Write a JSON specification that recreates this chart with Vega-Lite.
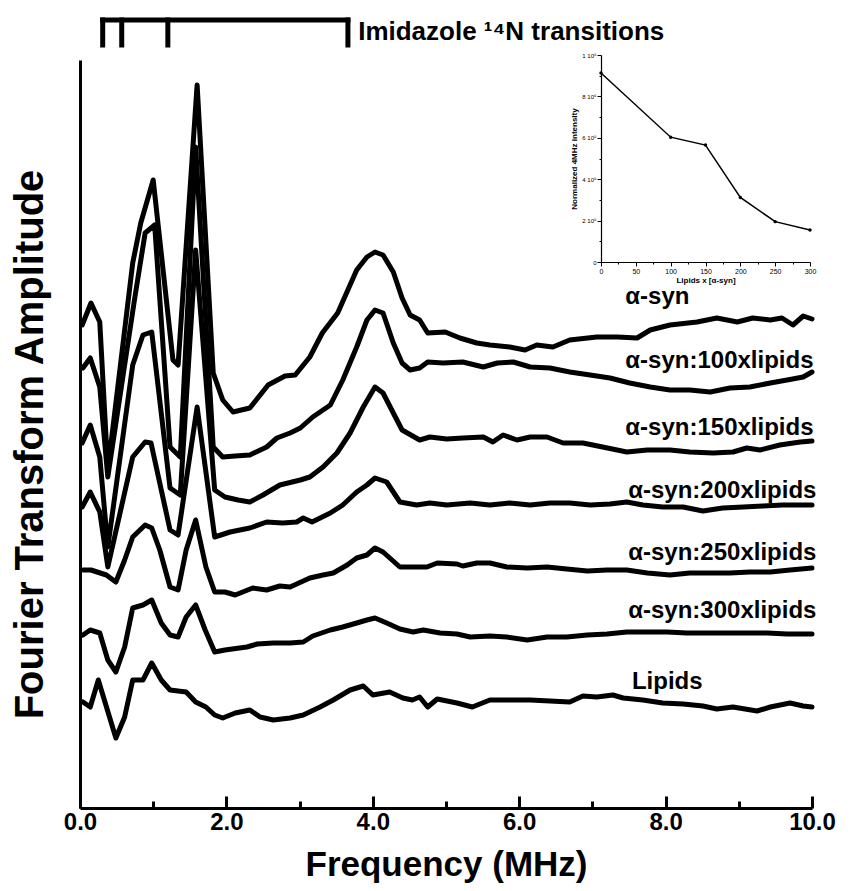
{
  "$schema": "https://vega.github.io/schema/vega-lite/v6.json",
  "width": 732,
  "height": 748,
  "autosize": {"type": "none"},
  "padding": {"left": 80, "top": 60, "right": 39, "bottom": 83},
  "background": "white",
  "config": {"view": {"stroke": null}, "axis": {"grid": false}},
  "datasets": {
    "spectra": [
      {"series":"a-syn","freq":0.03,"amp":483},{"series":"a-syn","freq":0.15,"amp":505},{"series":"a-syn","freq":0.27,"amp":486},{"series":"a-syn","freq":0.38,"amp":338},{"series":"a-syn","freq":0.72,"amp":545},{"series":"a-syn","freq":0.83,"amp":585},{"series":"a-syn","freq":1.0,"amp":628},{"series":"a-syn","freq":1.27,"amp":448},{"series":"a-syn","freq":1.34,"amp":443},{"series":"a-syn","freq":1.6,"amp":723},{"series":"a-syn","freq":1.82,"amp":435},{"series":"a-syn","freq":1.95,"amp":408},{"series":"a-syn","freq":2.09,"amp":396},{"series":"a-syn","freq":2.32,"amp":400},{"series":"a-syn","freq":2.57,"amp":423},{"series":"a-syn","freq":2.8,"amp":432},{"series":"a-syn","freq":2.94,"amp":433},{"series":"a-syn","freq":3.14,"amp":451},{"series":"a-syn","freq":3.31,"amp":475},{"series":"a-syn","freq":3.52,"amp":495},{"series":"a-syn","freq":3.78,"amp":538},{"series":"a-syn","freq":3.92,"amp":551},{"series":"a-syn","freq":4.03,"amp":556},{"series":"a-syn","freq":4.14,"amp":553},{"series":"a-syn","freq":4.28,"amp":536},{"series":"a-syn","freq":4.4,"amp":510},{"series":"a-syn","freq":4.51,"amp":493},{"series":"a-syn","freq":4.64,"amp":488},{"series":"a-syn","freq":4.75,"amp":475},{"series":"a-syn","freq":4.99,"amp":476},{"series":"a-syn","freq":5.19,"amp":470},{"series":"a-syn","freq":5.42,"amp":465},{"series":"a-syn","freq":5.6,"amp":463},{"series":"a-syn","freq":5.87,"amp":461},{"series":"a-syn","freq":6.08,"amp":458},{"series":"a-syn","freq":6.24,"amp":463},{"series":"a-syn","freq":6.46,"amp":461},{"series":"a-syn","freq":6.69,"amp":468},{"series":"a-syn","freq":7.06,"amp":471},{"series":"a-syn","freq":7.34,"amp":471},{"series":"a-syn","freq":7.61,"amp":470},{"series":"a-syn","freq":7.79,"amp":478},{"series":"a-syn","freq":8.06,"amp":483},{"series":"a-syn","freq":8.43,"amp":486},{"series":"a-syn","freq":8.7,"amp":490},{"series":"a-syn","freq":8.98,"amp":486},{"series":"a-syn","freq":9.19,"amp":490},{"series":"a-syn","freq":9.43,"amp":488},{"series":"a-syn","freq":9.59,"amp":490},{"series":"a-syn","freq":9.74,"amp":483},{"series":"a-syn","freq":9.88,"amp":492},{"series":"a-syn","freq":10.0,"amp":489},
      {"series":"100x","freq":0.04,"amp":440},{"series":"100x","freq":0.14,"amp":450},{"series":"100x","freq":0.27,"amp":421},{"series":"100x","freq":0.38,"amp":331},{"series":"100x","freq":0.75,"amp":511},{"series":"100x","freq":0.89,"amp":575},{"series":"100x","freq":1.02,"amp":583},{"series":"100x","freq":1.23,"amp":361},{"series":"100x","freq":1.37,"amp":351},{"series":"100x","freq":1.58,"amp":661},{"series":"100x","freq":1.82,"amp":361},{"series":"100x","freq":1.95,"amp":351},{"series":"100x","freq":2.12,"amp":352},{"series":"100x","freq":2.32,"amp":353},{"series":"100x","freq":2.55,"amp":361},{"series":"100x","freq":2.69,"amp":370},{"series":"100x","freq":2.87,"amp":375},{"series":"100x","freq":3.01,"amp":380},{"series":"100x","freq":3.18,"amp":391},{"series":"100x","freq":3.42,"amp":403},{"series":"100x","freq":3.59,"amp":428},{"series":"100x","freq":3.78,"amp":461},{"series":"100x","freq":3.92,"amp":488},{"series":"100x","freq":4.03,"amp":498},{"series":"100x","freq":4.14,"amp":495},{"series":"100x","freq":4.28,"amp":465},{"series":"100x","freq":4.4,"amp":445},{"series":"100x","freq":4.51,"amp":438},{"series":"100x","freq":4.64,"amp":440},{"series":"100x","freq":4.75,"amp":446},{"series":"100x","freq":4.96,"amp":445},{"series":"100x","freq":5.23,"amp":446},{"series":"100x","freq":5.51,"amp":441},{"series":"100x","freq":5.7,"amp":445},{"series":"100x","freq":5.92,"amp":446},{"series":"100x","freq":6.15,"amp":441},{"series":"100x","freq":6.42,"amp":440},{"series":"100x","freq":6.69,"amp":436},{"series":"100x","freq":6.97,"amp":433},{"series":"100x","freq":7.24,"amp":430},{"series":"100x","freq":7.51,"amp":425},{"series":"100x","freq":7.79,"amp":421},{"series":"100x","freq":8.06,"amp":418},{"series":"100x","freq":8.33,"amp":418},{"series":"100x","freq":8.61,"amp":416},{"series":"100x","freq":8.88,"amp":420},{"series":"100x","freq":9.15,"amp":421},{"series":"100x","freq":9.43,"amp":425},{"series":"100x","freq":9.66,"amp":428},{"series":"100x","freq":9.88,"amp":431},{"series":"100x","freq":10.0,"amp":436},
      {"series":"150x","freq":0.03,"amp":365},{"series":"150x","freq":0.14,"amp":383},{"series":"150x","freq":0.27,"amp":351},{"series":"150x","freq":0.38,"amp":261},{"series":"150x","freq":0.72,"amp":443},{"series":"150x","freq":0.86,"amp":473},{"series":"150x","freq":0.98,"amp":476},{"series":"150x","freq":1.23,"amp":320},{"series":"150x","freq":1.37,"amp":313},{"series":"150x","freq":1.58,"amp":558},{"series":"150x","freq":1.84,"amp":318},{"series":"150x","freq":1.98,"amp":311},{"series":"150x","freq":2.16,"amp":308},{"series":"150x","freq":2.32,"amp":306},{"series":"150x","freq":2.5,"amp":313},{"series":"150x","freq":2.73,"amp":323},{"series":"150x","freq":3.01,"amp":328},{"series":"150x","freq":3.14,"amp":331},{"series":"150x","freq":3.32,"amp":341},{"series":"150x","freq":3.51,"amp":355},{"series":"150x","freq":3.69,"amp":375},{"series":"150x","freq":3.87,"amp":401},{"series":"150x","freq":4.03,"amp":421},{"series":"150x","freq":4.14,"amp":415},{"series":"150x","freq":4.28,"amp":395},{"series":"150x","freq":4.4,"amp":378},{"series":"150x","freq":4.64,"amp":368},{"series":"150x","freq":4.78,"amp":371},{"series":"150x","freq":5.01,"amp":369},{"series":"150x","freq":5.23,"amp":370},{"series":"150x","freq":5.51,"amp":371},{"series":"150x","freq":5.64,"amp":366},{"series":"150x","freq":5.78,"amp":373},{"series":"150x","freq":5.97,"amp":368},{"series":"150x","freq":6.15,"amp":371},{"series":"150x","freq":6.38,"amp":371},{"series":"150x","freq":6.6,"amp":365},{"series":"150x","freq":6.87,"amp":365},{"series":"150x","freq":7.14,"amp":361},{"series":"150x","freq":7.47,"amp":356},{"series":"150x","freq":7.75,"amp":358},{"series":"150x","freq":8.06,"amp":358},{"series":"150x","freq":8.33,"amp":356},{"series":"150x","freq":8.65,"amp":355},{"series":"150x","freq":8.92,"amp":356},{"series":"150x","freq":9.11,"amp":360},{"series":"150x","freq":9.29,"amp":358},{"series":"150x","freq":9.56,"amp":363},{"series":"150x","freq":9.84,"amp":366},{"series":"150x","freq":10.0,"amp":367},
      {"series":"200x","freq":0.03,"amp":301},{"series":"200x","freq":0.14,"amp":316},{"series":"200x","freq":0.27,"amp":296},{"series":"200x","freq":0.38,"amp":241},{"series":"200x","freq":0.72,"amp":351},{"series":"200x","freq":0.89,"amp":366},{"series":"200x","freq":0.97,"amp":365},{"series":"200x","freq":1.23,"amp":278},{"series":"200x","freq":1.34,"amp":273},{"series":"200x","freq":1.6,"amp":401},{"series":"200x","freq":1.84,"amp":271},{"series":"200x","freq":2.05,"amp":276},{"series":"200x","freq":2.32,"amp":280},{"series":"200x","freq":2.55,"amp":286},{"series":"200x","freq":2.77,"amp":285},{"series":"200x","freq":2.96,"amp":286},{"series":"200x","freq":3.05,"amp":290},{"series":"200x","freq":3.17,"amp":286},{"series":"200x","freq":3.42,"amp":295},{"series":"200x","freq":3.59,"amp":303},{"series":"200x","freq":3.78,"amp":316},{"series":"200x","freq":3.92,"amp":323},{"series":"200x","freq":4.03,"amp":330},{"series":"200x","freq":4.19,"amp":326},{"series":"200x","freq":4.37,"amp":306},{"series":"200x","freq":4.6,"amp":303},{"series":"200x","freq":4.78,"amp":305},{"series":"200x","freq":5.01,"amp":303},{"series":"200x","freq":5.33,"amp":305},{"series":"200x","freq":5.6,"amp":303},{"series":"200x","freq":5.87,"amp":305},{"series":"200x","freq":6.15,"amp":303},{"series":"200x","freq":6.42,"amp":305},{"series":"200x","freq":6.69,"amp":305},{"series":"200x","freq":6.97,"amp":303},{"series":"200x","freq":7.24,"amp":304},{"series":"200x","freq":7.47,"amp":306},{"series":"200x","freq":7.69,"amp":303},{"series":"200x","freq":7.96,"amp":301},{"series":"200x","freq":8.24,"amp":301},{"series":"200x","freq":8.51,"amp":297},{"series":"200x","freq":8.78,"amp":300},{"series":"200x","freq":9.06,"amp":301},{"series":"200x","freq":9.33,"amp":302},{"series":"200x","freq":9.6,"amp":303},{"series":"200x","freq":9.88,"amp":303},{"series":"200x","freq":10.0,"amp":303},
      {"series":"250x","freq":0.04,"amp":238},{"series":"250x","freq":0.15,"amp":238},{"series":"250x","freq":0.36,"amp":233},{"series":"250x","freq":0.49,"amp":226},{"series":"250x","freq":0.61,"amp":248},{"series":"250x","freq":0.72,"amp":271},{"series":"250x","freq":0.89,"amp":283},{"series":"250x","freq":0.98,"amp":280},{"series":"250x","freq":1.09,"amp":258},{"series":"250x","freq":1.23,"amp":221},{"series":"250x","freq":1.34,"amp":218},{"series":"250x","freq":1.45,"amp":258},{"series":"250x","freq":1.58,"amp":288},{"series":"250x","freq":1.72,"amp":241},{"series":"250x","freq":1.84,"amp":216},{"series":"250x","freq":1.98,"amp":216},{"series":"250x","freq":2.12,"amp":213},{"series":"250x","freq":2.36,"amp":220},{"series":"250x","freq":2.55,"amp":218},{"series":"250x","freq":2.73,"amp":222},{"series":"250x","freq":2.87,"amp":221},{"series":"250x","freq":3.14,"amp":230},{"series":"250x","freq":3.32,"amp":233},{"series":"250x","freq":3.46,"amp":235},{"series":"250x","freq":3.65,"amp":243},{"series":"250x","freq":3.78,"amp":250},{"series":"250x","freq":3.92,"amp":253},{"series":"250x","freq":4.03,"amp":260},{"series":"250x","freq":4.14,"amp":256},{"series":"250x","freq":4.37,"amp":241},{"series":"250x","freq":4.51,"amp":241},{"series":"250x","freq":4.74,"amp":241},{"series":"250x","freq":4.88,"amp":245},{"series":"250x","freq":5.15,"amp":244},{"series":"250x","freq":5.23,"amp":242},{"series":"250x","freq":5.42,"amp":245},{"series":"250x","freq":5.6,"amp":245},{"series":"250x","freq":5.83,"amp":241},{"series":"250x","freq":6.11,"amp":240},{"series":"250x","freq":6.38,"amp":241},{"series":"250x","freq":6.65,"amp":239},{"series":"250x","freq":6.93,"amp":237},{"series":"250x","freq":7.2,"amp":238},{"series":"250x","freq":7.47,"amp":238},{"series":"250x","freq":7.75,"amp":235},{"series":"250x","freq":8.06,"amp":233},{"series":"250x","freq":8.33,"amp":235},{"series":"250x","freq":8.61,"amp":235},{"series":"250x","freq":8.88,"amp":235},{"series":"250x","freq":9.15,"amp":236},{"series":"250x","freq":9.43,"amp":236},{"series":"250x","freq":9.7,"amp":238},{"series":"250x","freq":10.0,"amp":240},
      {"series":"300x","freq":0.04,"amp":173},{"series":"300x","freq":0.14,"amp":178},{"series":"300x","freq":0.27,"amp":175},{"series":"300x","freq":0.38,"amp":148},{"series":"300x","freq":0.49,"amp":136},{"series":"300x","freq":0.61,"amp":161},{"series":"300x","freq":0.72,"amp":200},{"series":"300x","freq":0.86,"amp":203},{"series":"300x","freq":0.98,"amp":208},{"series":"300x","freq":1.11,"amp":185},{"series":"300x","freq":1.23,"amp":173},{"series":"300x","freq":1.34,"amp":171},{"series":"300x","freq":1.45,"amp":191},{"series":"300x","freq":1.58,"amp":203},{"series":"300x","freq":1.71,"amp":178},{"series":"300x","freq":1.84,"amp":156},{"series":"300x","freq":1.98,"amp":158},{"series":"300x","freq":2.28,"amp":161},{"series":"300x","freq":2.42,"amp":164},{"series":"300x","freq":2.64,"amp":165},{"series":"300x","freq":2.87,"amp":165},{"series":"300x","freq":3.05,"amp":166},{"series":"300x","freq":3.18,"amp":172},{"series":"300x","freq":3.42,"amp":178},{"series":"300x","freq":3.59,"amp":181},{"series":"300x","freq":3.78,"amp":185},{"series":"300x","freq":3.92,"amp":188},{"series":"300x","freq":4.03,"amp":190},{"series":"300x","freq":4.19,"amp":185},{"series":"300x","freq":4.37,"amp":179},{"series":"300x","freq":4.55,"amp":176},{"series":"300x","freq":4.69,"amp":178},{"series":"300x","freq":4.92,"amp":175},{"series":"300x","freq":5.15,"amp":174},{"series":"300x","freq":5.33,"amp":171},{"series":"300x","freq":5.6,"amp":172},{"series":"300x","freq":5.83,"amp":171},{"series":"300x","freq":6.11,"amp":168},{"series":"300x","freq":6.38,"amp":171},{"series":"300x","freq":6.65,"amp":171},{"series":"300x","freq":6.93,"amp":173},{"series":"300x","freq":7.2,"amp":174},{"series":"300x","freq":7.47,"amp":176},{"series":"300x","freq":7.75,"amp":176},{"series":"300x","freq":8.02,"amp":176},{"series":"300x","freq":8.29,"amp":175},{"series":"300x","freq":8.57,"amp":175},{"series":"300x","freq":8.84,"amp":175},{"series":"300x","freq":9.11,"amp":175},{"series":"300x","freq":9.39,"amp":175},{"series":"300x","freq":9.66,"amp":174},{"series":"300x","freq":10.0,"amp":174},
      {"series":"lipids","freq":0.04,"amp":106},{"series":"lipids","freq":0.14,"amp":101},{"series":"lipids","freq":0.25,"amp":128},{"series":"lipids","freq":0.49,"amp":70},{"series":"lipids","freq":0.61,"amp":91},{"series":"lipids","freq":0.72,"amp":128},{"series":"lipids","freq":0.86,"amp":128},{"series":"lipids","freq":0.98,"amp":145},{"series":"lipids","freq":1.11,"amp":128},{"series":"lipids","freq":1.23,"amp":118},{"series":"lipids","freq":1.45,"amp":116},{"series":"lipids","freq":1.58,"amp":106},{"series":"lipids","freq":1.72,"amp":101},{"series":"lipids","freq":1.84,"amp":93},{"series":"lipids","freq":1.95,"amp":90},{"series":"lipids","freq":2.12,"amp":95},{"series":"lipids","freq":2.32,"amp":98},{"series":"lipids","freq":2.46,"amp":91},{"series":"lipids","freq":2.64,"amp":88},{"series":"lipids","freq":2.87,"amp":90},{"series":"lipids","freq":3.05,"amp":93},{"series":"lipids","freq":3.28,"amp":101},{"series":"lipids","freq":3.46,"amp":108},{"series":"lipids","freq":3.69,"amp":118},{"series":"lipids","freq":3.87,"amp":122},{"series":"lipids","freq":4.0,"amp":113},{"series":"lipids","freq":4.23,"amp":116},{"series":"lipids","freq":4.41,"amp":110},{"series":"lipids","freq":4.54,"amp":108},{"series":"lipids","freq":4.64,"amp":111},{"series":"lipids","freq":4.75,"amp":101},{"series":"lipids","freq":4.88,"amp":109},{"series":"lipids","freq":5.15,"amp":105},{"series":"lipids","freq":5.36,"amp":101},{"series":"lipids","freq":5.6,"amp":108},{"series":"lipids","freq":5.87,"amp":108},{"series":"lipids","freq":6.15,"amp":108},{"series":"lipids","freq":6.42,"amp":107},{"series":"lipids","freq":6.69,"amp":106},{"series":"lipids","freq":6.87,"amp":112},{"series":"lipids","freq":7.06,"amp":111},{"series":"lipids","freq":7.28,"amp":113},{"series":"lipids","freq":7.42,"amp":110},{"series":"lipids","freq":7.69,"amp":108},{"series":"lipids","freq":7.96,"amp":105},{"series":"lipids","freq":8.24,"amp":104},{"series":"lipids","freq":8.51,"amp":102},{"series":"lipids","freq":8.7,"amp":99},{"series":"lipids","freq":8.92,"amp":101},{"series":"lipids","freq":9.25,"amp":97},{"series":"lipids","freq":9.43,"amp":101},{"series":"lipids","freq":9.7,"amp":105},{"series":"lipids","freq":9.88,"amp":102},{"series":"lipids","freq":10.0,"amp":101}
    ],
    "labels": [
      {"label":"α-syn","freq":7.45,"amp":511},
      {"label":"α-syn:100xlipids","freq":7.45,"amp":447},
      {"label":"α-syn:150xlipids","freq":7.45,"amp":380},
      {"label":"α-syn:200xlipids","freq":7.49,"amp":317},
      {"label":"α-syn:250xlipids","freq":7.49,"amp":255},
      {"label":"α-syn:300xlipids","freq":7.49,"amp":197},
      {"label":"Lipids","freq":7.54,"amp":126}
    ],
    "bracket": [
      {"freq":0.31,"freq2":3.66,"amp":788,"amp2":788},
      {"freq":0.31,"freq2":0.31,"amp":788,"amp2":763},
      {"freq":0.57,"freq2":0.57,"amp":788,"amp2":763},
      {"freq":1.2,"freq2":1.2,"amp":788,"amp2":763},
      {"freq":3.66,"freq2":3.66,"amp":788,"amp2":763}
    ],
    "inset": [
      {"lipids":0,"intensity":913000},
      {"lipids":100,"intensity":603000},
      {"lipids":150,"intensity":565000},
      {"lipids":200,"intensity":312000},
      {"lipids":250,"intensity":195000},
      {"lipids":300,"intensity":155000}
    ]
  },
  "layer": [
    {
      "layer": [
        {
          "data": {"name": "spectra"},
          "mark": {"type": "line", "stroke": "black", "strokeWidth": 5, "strokeJoin": "round", "strokeCap": "round"},
          "encoding": {
            "x": {
              "field": "freq", "type": "quantitative",
              "scale": {"domain": [0, 10], "nice": false, "zero": false},
              "axis": {
                "title": "Frequency (MHz)",
                "values": [0,0.5,1,1.5,2,2.5,3,3.5,4,4.5,5,5.5,6,6.5,7,7.5,8,8.5,9,9.5,10],
                "labelExpr": "datum.value % 2 === 0 ? format(datum.value, '.1f') : ''",
                "tickSize": {"condition": {"test": "datum.value % 2 === 0", "value": -12}, "value": -7},
                "tickWidth": 3, "tickColor": "black",
                "domainWidth": 3, "domainColor": "black",
                "labelFont": "Liberation Sans", "labelFontSize": 24, "labelFontWeight": "bold", "labelColor": "black",
                "labelPadding": 14, "labelFlush": false, "labelOverlap": false, "labelBound": false,
                "titleFont": "Liberation Sans", "titleFontSize": 35, "titleFontWeight": "bold", "titleColor": "black", "titlePadding": 8,
                "grid": false
              }
            },
            "y": {
              "field": "amp", "type": "quantitative",
              "scale": {"domain": [0, 748], "nice": false, "zero": false},
              "axis": {
                "title": "Fourier Transform Amplitude",
                "ticks": false, "labels": false,
                "domainWidth": 3, "domainColor": "black",
                "titleFont": "Liberation Sans", "titleFontSize": 40, "titleFontWeight": "bold", "titleColor": "black", "titlePadding": 30,
                "titleY": 384,
                "grid": false
              }
            },
            "detail": {"field": "series", "type": "nominal"}
          }
        },
        {
          "data": {"name": "labels"},
          "mark": {"type": "text", "align": "left", "baseline": "middle", "font": "Liberation Sans", "fontSize": 24, "fontWeight": "bold", "color": "black"},
          "encoding": {
            "x": {"field": "freq", "type": "quantitative"},
            "y": {"field": "amp", "type": "quantitative"},
            "text": {"field": "label"}
          }
        },
        {
          "data": {"name": "bracket"},
          "mark": {"type": "rule", "stroke": "black", "strokeWidth": 5, "strokeCap": "square"},
          "encoding": {
            "x": {"field": "freq", "type": "quantitative"},
            "x2": {"field": "freq2"},
            "y": {"field": "amp", "type": "quantitative"},
            "y2": {"field": "amp2"}
          }
        },
        {
          "data": {"values": [{"label": "Imidazole ¹⁴N transitions", "freq": 3.8, "amp": 776}]},
          "mark": {"type": "text", "align": "left", "baseline": "middle", "font": "Liberation Sans", "fontSize": 26, "fontWeight": "bold", "color": "black"},
          "encoding": {
            "x": {"field": "freq", "type": "quantitative"},
            "y": {"field": "amp", "type": "quantitative"},
            "text": {"field": "label"}
          }
        }
      ]
    },
    {
      "data": {"name": "inset"},
      "encoding": {
        "x": {
          "field": "lipids", "type": "quantitative",
          "scale": {"domain": [0, 300], "range": [521, 730], "nice": false, "zero": false},
          "axis": {
            "orient": "bottom", "offset": -546,
            "title": "Lipids x [α-syn]",
            "values": [0,25,50,75,100,125,150,175,200,225,250,275,300],
            "labelExpr": "datum.value % 50 === 0 ? '' + datum.value : ''",
            "tickSize": {"condition": {"test": "datum.value % 50 === 0", "value": 4}, "value": 2},
            "tickWidth": 1, "tickColor": "black", "domainWidth": 1.2, "domainColor": "black",
            "labelFont": "Liberation Sans", "labelFontSize": 7, "labelColor": "black", "labelPadding": 1, "labelFlush": false, "labelOverlap": false,
            "titleFont": "Liberation Sans", "titleFontSize": 8, "titleFontWeight": "bold", "titleColor": "black", "titlePadding": 2,
            "grid": false
          }
        },
        "y": {
          "field": "intensity", "type": "quantitative",
          "scale": {"domain": [0, 1000000], "range": [202, -5], "nice": false, "zero": false},
          "axis": {
            "orient": "left", "offset": -521,
            "title": "Normalized 4MHz intensity",
            "values": [0,100000,200000,300000,400000,500000,600000,700000,800000,900000,1000000],
            "labelExpr": "datum.value === 0 ? '0' : datum.value === 1000000 ? '1 10⁶' : datum.value % 200000 === 0 ? (datum.value / 100000) + ' 10⁵' : ''",
            "tickSize": {"condition": {"test": "datum.value % 200000 === 0", "value": 4}, "value": 2},
            "tickWidth": 1, "tickColor": "black", "domainWidth": 1.2, "domainColor": "black",
            "labelFont": "Liberation Sans", "labelFontSize": 6, "labelColor": "black", "labelPadding": 1, "labelFlush": false, "labelOverlap": false,
            "titleFont": "Liberation Sans", "titleFontSize": 8, "titleFontWeight": "bold", "titleColor": "black", "titlePadding": 3,
            "grid": false
          }
        }
      },
      "layer": [
        {"mark": {"type": "line", "stroke": "black", "strokeWidth": 1.5}},
        {"mark": {"type": "point", "filled": true, "color": "black", "size": 12, "opacity": 1}}
      ]
    }
  ],
  "resolve": {"scale": {"x": "independent", "y": "independent"}}
}
